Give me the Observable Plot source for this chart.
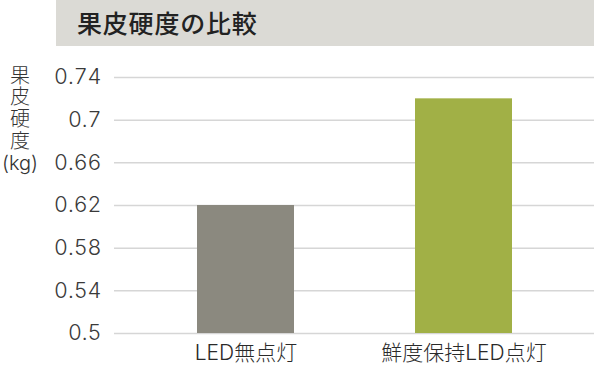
<!DOCTYPE html>
<html>
<head>
<meta charset="utf-8">
<script src="https://cdn.jsdelivr.net/npm/d3@7"></script>
<script src="https://cdn.jsdelivr.net/npm/@observablehq/plot@0.6"></script>
<style>
  html, body { margin: 0; padding: 0; background: #fff; }
  #wrap { position: relative; width: 594px; height: 376px; overflow: hidden; font-family: "Noto Sans CJK JP", "Noto Sans", sans-serif; }
  #title { position: absolute; left: 56px; top: 0; width: 538px; height: 46px; background: #dbdad5; }
  #title span { position: absolute; left: 21px; top: 6px; font-size: 25px; font-weight: 500; color: #222; line-height: 32px; letter-spacing: 0.8px; white-space: nowrap; }
  .yl { position: absolute; left: 0; width: 40px; text-align: center; font-family: Inter, "Noto Sans CJK JP", sans-serif; font-size: 20px; line-height: 20px; height: 20px; color: #333; font-weight: 300; white-space: nowrap; }
  #chart { position: absolute; left: 0; top: 46px; }
</style>
</head>
<body>
<div id="wrap">
  <div id="title"><span>果皮硬度の比較</span></div>
  <div id="ylabel"></div>
  <div id="chart"></div>
</div>
<script>
const title = "果皮硬度の比較";
const yLabelLines = ["果", "皮", "硬", "度", "(kg)"];
const categories = ["LED無点灯", "鮮度保持LED点灯"];
const values = [0.62, 0.72];
const barColors = ["#8b897f", "#a1b046"];
const yTicks = [0.5, 0.54, 0.58, 0.62, 0.66, 0.7, 0.74];
const yTickLabels = ["0.5", "0.54", "0.58", "0.62", "0.66", "0.7", "0.74"];

const yl = document.getElementById("ylabel");
yLabelLines.forEach((t, i) => {
  const d = document.createElement("div");
  d.className = "yl";
  d.textContent = t;
  d.style.top = (65.5 + i * 21.75) + "px";
  yl.appendChild(d);
});

const data = categories.map((c, i) => ({category: c, value: values[i], color: barColors[i]}));
const base = yTicks[0];

const plot = Plot.plot({
  width: 594,
  height: 330,
  marginLeft: 114,
  marginRight: 0,
  marginTop: 31,
  marginBottom: 43,
  style: {fontFamily: "Inter, \"Noto Sans CJK JP\", sans-serif", background: "transparent", overflow: "visible"},
  x: {domain: categories, paddingInner: 0.557, paddingOuter: 0.375, axis: null},
  y: {domain: [yTicks[0], yTicks[yTicks.length - 1]], axis: null},
  marks: [
    Plot.ruleY(yTicks, {stroke: "#d6d6d6", strokeWidth: 1.5}),
    Plot.barY(data, {x: "category", y1: () => base, y2: "value", fill: "color"}),
    Plot.axisY(yTicks, {
      tickSize: 0, tickPadding: 13,
      tickFormat: (d) => yTickLabels[yTicks.indexOf(d)],
      fontSize: 21.5, fontWeight: 300, fill: "#3a3a3a",
      fontFamily: "Inter, sans-serif",
      label: null
    }),
    Plot.axisX({
      tickSize: 0, tickPadding: 12,
      fontSize: 21, fontWeight: 300, fill: "#2a2a2a",
      fontFamily: "Inter, \"Noto Sans CJK JP\", sans-serif",
      label: null,
      style: {letterSpacing: "1px"}
    })
  ]
});
document.getElementById("chart").appendChild(plot);
</script>
</body>
</html>
